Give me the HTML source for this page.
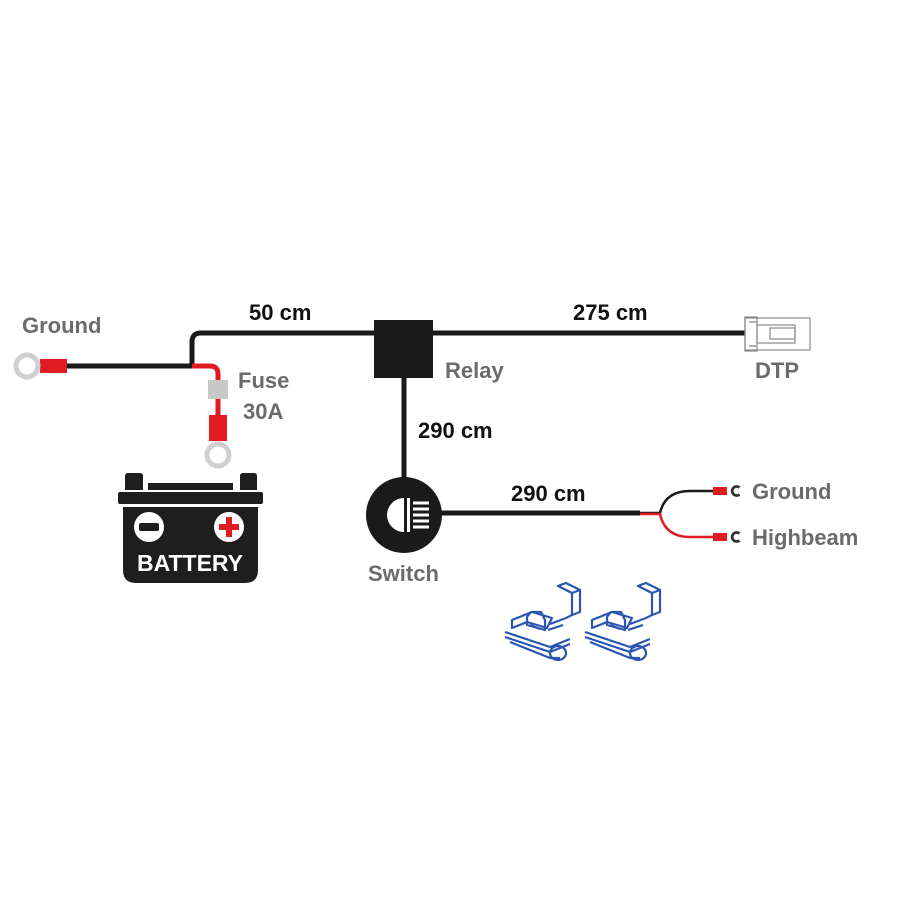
<!DOCTYPE html>
<html><head><meta charset="utf-8"><style>
html,body{margin:0;padding:0;background:#fff}
svg{display:block}
text{font-family:"Liberation Sans",sans-serif;font-weight:bold}
</style></head><body>
<svg width="900" height="900" viewBox="0 0 900 900">
<g font-size="22">
<text x="22" y="333" fill="#6b6b6b">Ground</text>
<text x="249" y="320" fill="#111">50 cm</text>
<text x="573" y="320" fill="#111">275 cm</text>
<text x="238" y="388" fill="#6b6b6b">Fuse</text>
<text x="243" y="419" fill="#6b6b6b">30A</text>
<text x="445" y="378" fill="#6b6b6b">Relay</text>
<text x="755" y="378" fill="#6b6b6b">DTP</text>
<text x="418" y="438" fill="#111">290 cm</text>
<text x="511" y="501" fill="#111">290 cm</text>
<text x="368" y="581" fill="#6b6b6b">Switch</text>
<text x="752" y="499" fill="#6b6b6b">Ground</text>
<text x="752" y="545" fill="#6b6b6b">Highbeam</text>
</g>
<!-- wires -->
<path d="M67 366 H192 V342 Q192 333 201 333 H745" fill="none" stroke="#1a1a1a" stroke-width="5"/>
<path d="M192 366 H210 Q218 366 218 374 V416" fill="none" stroke="#e01b22" stroke-width="5"/>
<rect x="208" y="380" width="20" height="19" fill="#c8c8c8"/>
<rect x="40" y="359" width="27" height="14" fill="#e01b22"/>
<rect x="209" y="415" width="18" height="26" fill="#e01b22"/>
<circle cx="27" cy="366" r="11" fill="#fff" stroke="#cfcfcf" stroke-width="5"/>
<circle cx="218" cy="455" r="11" fill="#fff" stroke="#cfcfcf" stroke-width="5"/>
<!-- battery -->
<path d="M125 490 V476 Q125 473 128 473 H140 Q143 473 143 476 V490 Z" fill="#1e1e1e"/>
<path d="M240 490 V476 Q240 473 243 473 H254 Q257 473 257 476 V490 Z" fill="#1e1e1e"/>
<rect x="148" y="483" width="85" height="7" fill="#1e1e1e"/>
<rect x="118" y="492" width="145" height="12" rx="2" fill="#1e1e1e"/>
<path d="M123 507 H258 V570 Q258 583 245 583 H136 Q123 583 123 570 Z" fill="#1e1e1e"/>
<circle cx="149" cy="527" r="15" fill="#fff"/>
<rect x="139" y="523" width="20" height="8" rx="2" fill="#1e1e1e"/>
<circle cx="229" cy="527" r="15" fill="#fff"/>
<path d="M226 517 h6 v7 h7 v6 h-7 v7 h-6 v-7 h-7 v-6 h7z" fill="#e01b22"/>
<text x="190" y="571" fill="#fff" font-size="23" text-anchor="middle">BATTERY</text>
<!-- relay -->
<rect x="374" y="320" width="59" height="58" fill="#1a1a1a"/>
<path d="M404 378 V480" stroke="#1a1a1a" stroke-width="5"/>
<!-- switch -->
<path d="M440 513 H640" stroke="#1a1a1a" stroke-width="5"/>
<path d="M640 513 H660 Q665 491 690 491 H715" fill="none" stroke="#1a1a1a" stroke-width="2.5"/>
<path d="M640 514 H660 Q665 537 690 537 H715" fill="none" stroke="#e01b22" stroke-width="2.5"/>
<rect x="713" y="487" width="14" height="8" fill="#e01b22"/>
<rect x="713" y="533" width="14" height="8" fill="#e01b22"/>
<path d="M739.5 487.5 A4.5 4.5 0 1 0 739.5 494.5" fill="none" stroke="#333" stroke-width="2.8"/>
<path d="M739.5 533.5 A4.5 4.5 0 1 0 739.5 540.5" fill="none" stroke="#333" stroke-width="2.8"/>
<circle cx="404" cy="515" r="38" fill="#1a1a1a"/>
<path d="M404 498 A17 17 0 0 0 404 532 Z" fill="#fff"/>
<rect x="407" y="498" width="3" height="34" fill="#fff"/>
<g stroke="#fff" stroke-width="3"><path d="M413 503h16M413 509h16M413 515h16M413 521h16M413 527h16"/></g>
<!-- DTP -->
<g fill="none" stroke="#888" stroke-width="1.2">
<rect x="745" y="318" width="65" height="32"/>
<rect x="745" y="317" width="12" height="34"/>
<rect x="757" y="325" width="38" height="18"/>
<rect x="770" y="328" width="25" height="11"/>
<path d="M749 322h8M749 346h8"/>
</g>
<!-- clips -->
<g fill="none" stroke="#2b55b0" stroke-width="2.2" stroke-linejoin="round">
<g id="c">
<path d="M558 586 l8 -3 l14 7 l-8 3 z"/>
<path d="M572 593 v22 l-6 3"/>
<path d="M580 590 v22 l-8 3"/>
<path d="M566 618 l-16 6"/>
<path d="M512 620 l20 -8 l20 6 l-5 10 l-20 -6 l-15 6 z"/>
<path d="M527 617 l4 -5 h10 l4 8 v10 l-18 -5 z"/>
<path d="M505 632 l45 15 l20 -8"/>
<path d="M505 637 l45 15 l20 -8"/>
<path d="M510 642 l40 16 h10"/>
<ellipse cx="558" cy="653" rx="8" ry="7"/>
<path d="M530 625 l10 4 M548 630 l15 -5"/>
</g>
<use href="#c" x="80"/>
</g>
</svg>
</body></html>
